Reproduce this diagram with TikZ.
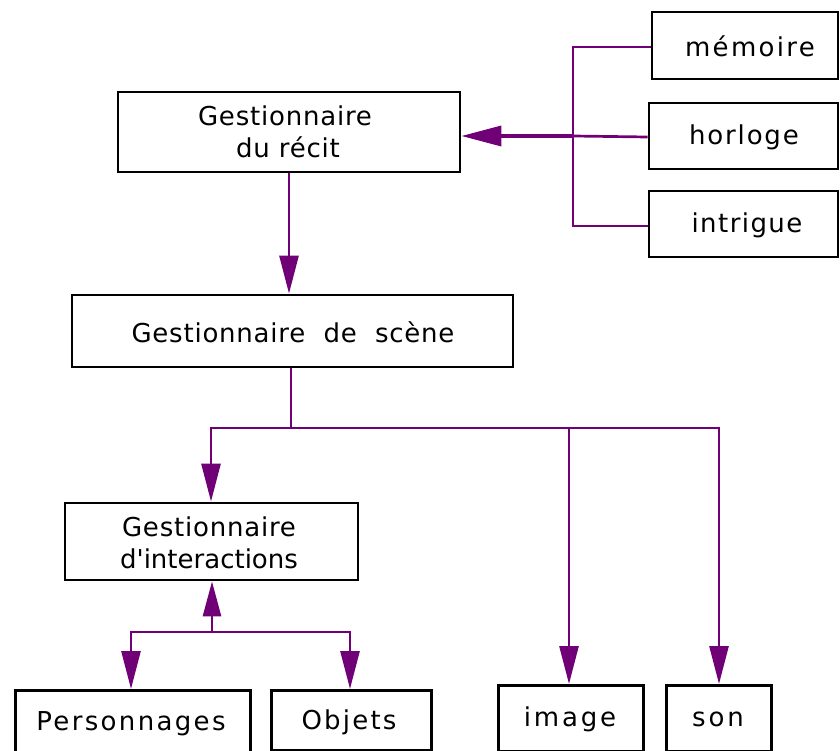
\documentclass[tikz,border=0pt]{standalone}
\usepackage{fontspec}
\setmainfont{DejaVu Sans}
\usetikzlibrary{arrows.meta}
\definecolor{link}{RGB}{112,0,118}
\newcommand{\trk}[1]{\addfontfeature{LetterSpace=#1}}
\tikzset{
  box/.style={draw=black, line width=2.8pt, rectangle, inner sep=0pt},
  lbl/.style={inner sep=0pt, align=center, font=\fontsize{26}{32}\selectfont},
  wire/.style={draw=link, line width=2.7pt},
  tip/.style={-{Triangle[length=38pt,width=19pt]}}
}
\begin{document}
\begin{tikzpicture}[x=1pt,y=-1pt]
  \useasboundingbox (0,0) rectangle (840,751);
  \clip (0,0) rectangle (840,751);

  % story manager and its three sources
  \node[box, minimum width=342pt, minimum height=80pt] (recit) at (289,132) {};
  \node[lbl] (trec) at (285,132) {\trk{3}Gestionnaire\\\hspace{6pt}\trk{3}du récit};
  \node[box, minimum width=186pt, minimum height=67pt] (memoire) at (745,45.5) {};
  \node[lbl] (tmem) at (750,46) {\trk{9}mémoire};
  \node[box, minimum width=189pt, minimum height=66pt] (horloge) at (743.5,136) {};
  \node[lbl] (thor) at (744,137) {\trk{7}horloge};
  \node[box, minimum width=189pt, minimum height=66pt] (intrigue) at (743.5,224) {};
  \node[lbl] (tint) at (747,225) {\trk{5.5}intrigue};

  % scene manager
  \node[box, minimum width=441pt, minimum height=72pt] (scene) at (292.5,331) {};
  \node[lbl] (tsce) at (293,332) {\trk{3}Gestionnaire\hspace{0.7em}de\hspace{0.7em}scène};

  % interaction manager
  \node[box, minimum width=293pt, minimum height=77pt] (inter) at (211.5,541.5) {};
  \node[lbl] (tint2) at (209,543) {\trk{3}Gestionnaire\\d\textquotesingle interactions};

  % leaves along the bottom
  \node[box, minimum width=235pt, minimum height=80pt, anchor=north west] (perso) at (14,689) {};
  \node[lbl] (tper) at (131,724) {\trk{9}Personnages};
  \node[box, minimum width=160pt, minimum height=60pt, anchor=north west] (objets) at (270,689) {};
  \node[lbl] (tobj) at (349,722) {\trk{8.5}Objets};
  \node[box, minimum width=145pt, minimum height=66pt, anchor=north west] (image) at (497,684) {};
  \node[lbl] (timg) at (570,719) {\trk{11}image};
  \node[box, minimum width=105pt, minimum height=66pt, anchor=north west] (son) at (665,684) {};
  \node[lbl] (tson) at (718,719) {\trk{11}son};

  % junction points of the connector buses
  \coordinate (rb) at (573,136);
  \coordinate (sb) at (291,428);
  \coordinate (ib) at (212,632);

  % sources feeding the story manager
  \draw[wire] (memoire.west |- 0,47) -| (rb);
  \draw[wire] (horloge.west |- 0,137) -- (rb);
  \draw[wire] (intrigue.west |- 0,226) -| (rb);
  \draw[wire, line width=3.6pt, -{Triangle[length=40pt,width=20pt]}] (rb) -- (recit.east |- rb);

  % story manager to scene manager
  \draw[wire, tip] (recit.south -| 289,0) -- (scene.north -| 289,0);

  % scene manager to its three children
  \draw[wire] (scene.south -| sb) -- (sb);
  \draw[wire, tip] (sb) -| (inter.north -| 211,0);
  \draw[wire, tip] (sb) -| (image.north -| 569,0);
  \draw[wire, tip] (sb) -| (son.north -| 719,0);

  % interaction manager and its two children
  \draw[wire, -{Triangle[length=35pt,width=18pt]}] (ib) -- (inter.south -| ib);
  \draw[wire, tip] (ib) -| (perso.north -| 131,0);
  \draw[wire, tip] (ib) -| (objets.north -| 350,0);
\end{tikzpicture}
\end{document}
